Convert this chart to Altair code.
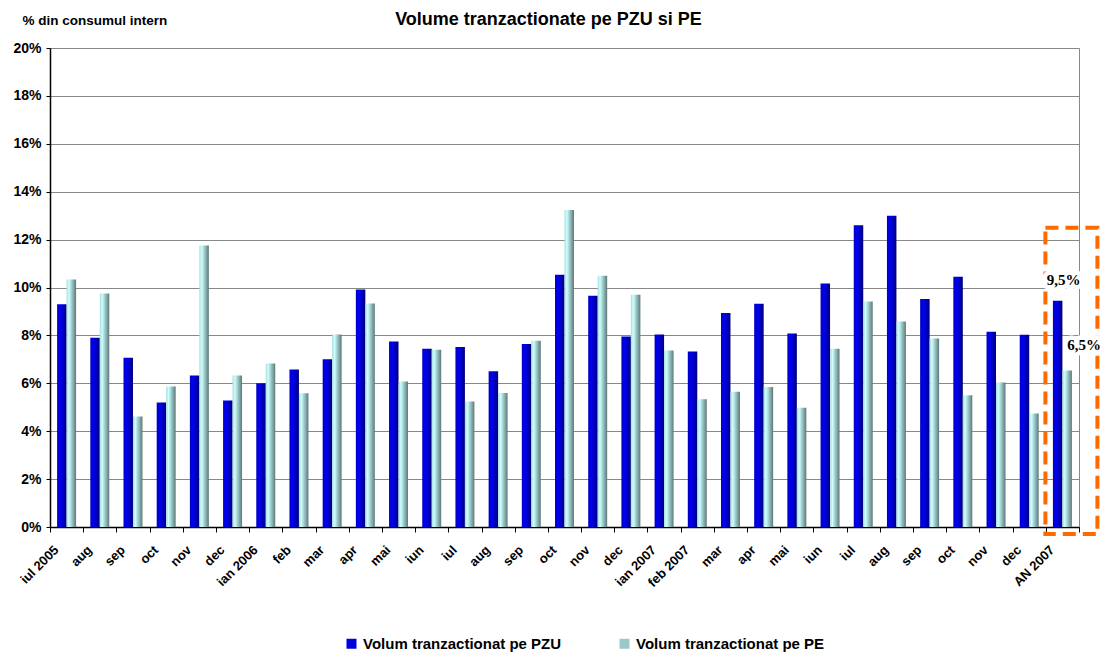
import altair as alt
import pandas as pd

categories = ["iul 2005", "aug", "sep", "oct", "nov", "dec", "ian 2006", "feb", "mar", "apr",
              "mai", "iun", "iul", "aug", "sep", "oct", "nov", "dec", "ian 2007", "feb 2007",
              "mar", "apr", "mai", "iun", "iul", "aug", "sep", "oct", "nov", "dec", "AN 2007"]
pzu = [9.3, 7.9, 7.07, 5.2, 6.33, 5.28, 6.0, 6.58, 7.0, 9.92,
       7.75, 7.44, 7.52, 6.5, 7.64, 10.53, 9.66, 7.95, 8.04, 7.33,
       8.94, 9.32, 8.08, 10.17, 12.6, 13.0, 9.52, 10.45, 8.15, 8.03, 9.45]
pe = [10.33, 9.75, 4.61, 5.87, 11.75, 6.33, 6.83, 5.58, 8.04, 9.33,
      6.07, 7.4, 5.24, 5.6, 7.78, 13.24, 10.49, 9.7, 7.37, 5.33,
      5.65, 5.85, 4.98, 7.44, 9.42, 8.58, 7.87, 5.5, 6.03, 4.74, 6.53]
series = ["Volum tranzactionat pe PZU", "Volum tranzactionat pe PE"]
y_ticks = [0, 2, 4, 6, 8, 10, 12, 14, 16, 18, 20]
ann_text = ["9,5%", "6,5%"]
box_top = [12.5]
box_bottom = [0]

n = len(categories)
df = pd.DataFrame({
    "idx": list(range(n)) * 2,
    "series": [series[0]] * n + [series[1]] * n,
    "value": pzu + pe,
})
cat_df = pd.DataFrame({"idx": list(range(n)), "label": categories})
ann_df = pd.DataFrame({
    "idx": [n - 1, n - 1],
    "series": series,
    "value": [pzu[-1], pe[-1]],
    "label": ann_text,
})
box_df = pd.DataFrame({"idx": [n - 1], "value": box_top, "bottom": box_bottom})

FONT = "Liberation Sans"

x_axis = alt.Axis(
    labels=False, tickBand="extent", tickSize=5, tickColor="black",
    domainColor="black", domainWidth=1.5, grid=False,
)
x_enc = alt.X(
    "idx:O",
    title=None,
    scale=alt.Scale(domain=list(range(n)), paddingInner=0, paddingOuter=0),
    axis=x_axis,
)
xoff = alt.XOffset("series:N", scale=alt.Scale(domain=series, paddingInner=0, paddingOuter=0.75))
y_axis = alt.Axis(
    values=y_ticks, labelExpr="datum.value + '%'",
    labelFont=FONT, labelFontSize=14, labelFontWeight="bold", labelColor="black", labelPadding=5,
    tickSize=4, tickColor="black", domainColor="black", domainWidth=1.5,
    grid=True, gridColor="#888888", gridWidth=1,
    title="% din consumul intern", titleAngle=0, titleAlign="left", titleBaseline="middle",
    titleX=-28, titleY=-28, titleFont=FONT, titleFontSize=13.5, titleFontWeight="bold",
    titleColor="black",
)
y_enc = alt.Y("value:Q", scale=alt.Scale(domain=[0, 20], nice=False, zero=True), axis=y_axis)

grad_pzu = alt.Gradient(
    gradient="linear", x1=0, x2=1, y1=0, y2=0,
    stops=[alt.GradientStop(offset=0, color="#0000C0"),
           alt.GradientStop(offset=0.35, color="#0000F5"),
           alt.GradientStop(offset=1, color="#00007A")],
)
grad_pe = alt.Gradient(
    gradient="linear", x1=0, x2=1, y1=0, y2=0,
    stops=[alt.GradientStop(offset=0, color="#A8DCDC"),
           alt.GradientStop(offset=0.25, color="#CCFFFF"),
           alt.GradientStop(offset=1, color="#5C7878")],
)

base = alt.Chart(df)
bars_pzu = base.transform_filter(alt.datum.series == series[0]).mark_bar(
    color=grad_pzu).encode(x=x_enc, xOffset=xoff, y=y_enc)
bars_pe = base.transform_filter(alt.datum.series == series[1]).mark_bar(
    color=grad_pe).encode(x=x_enc, xOffset=xoff, y=y_enc)

# rotated category labels under the axis
cat_labels = alt.Chart(cat_df).mark_text(
    angle=315, align="right", baseline="middle", font=FONT, fontSize=13, fontWeight="bold",
    color="black", xOffset=-10, yOffset=21,
).encode(x=x_enc, y=alt.YDatum(0), text="label:N")

legend_layer = base.mark_square(opacity=0, size=1).encode(
    x=x_enc, y=y_enc,
    color=alt.Color(
        "series:N", title=None,
        scale=alt.Scale(domain=series, range=["#0000DD", "#9CC8C8"]),
        legend=alt.Legend(
            orient="none", legendX=294, legendY=588, direction="horizontal",
            symbolType="square", symbolSize=100, symbolOpacity=1, symbolStrokeWidth=0,
            labelFont=FONT, labelFontSize=15, labelFontWeight="bold", labelColor="black",
            labelOffset=4, columnPadding=55, labelLimit=400,
        ),
    ),
)

box = alt.Chart(box_df).mark_rect(
    filled=False, stroke="#FF6A00", strokeWidth=4, strokeDash=[13, 7],
    width=52, xOffset=9, y2Offset=7,
).encode(x=x_enc, y=y_enc, y2=alt.Y2("bottom:Q"))

ann_base = alt.Chart(ann_df)
ann_layers = []
for i, (dx, dy) in enumerate([(6, -21), (17, -26)]):
    sub = ann_base.transform_filter(alt.datum.label == ann_text[i])
    enc = dict(x=x_enc, xOffset=xoff, y=y_enc, text="label:N")
    halo = sub.mark_text(font="Liberation Serif", fontSize=15, fontWeight="bold", dx=dx, dy=dy,
                         baseline="middle", align="center", color="white", stroke="white",
                         strokeWidth=9, strokeJoin="round").encode(**enc)
    txt = sub.mark_text(font="Liberation Serif", fontSize=15, fontWeight="bold", dx=dx, dy=dy,
                        baseline="middle", align="center", color="black").encode(**enc)
    ann_layers += [halo, txt]

chart = alt.layer(bars_pzu, bars_pe, cat_labels, legend_layer, box, *ann_layers).properties(
    width=1029, height=479,
    autosize=alt.AutoSizeParams(type="none"),
    padding={"left": 42, "top": 40, "right": 21, "bottom": 125},
    title=alt.TitleParams(
        text="Volume tranzactionate pe PZU si PE", font=FONT, fontSize=18, fontWeight="bold",
        color="black", anchor="middle", dx=-16, offset=-16,
    ),
).configure_view(stroke="#888888", strokeWidth=1)

chart.save("out.html", embed_options={"renderer": "svg", "actions": False})
